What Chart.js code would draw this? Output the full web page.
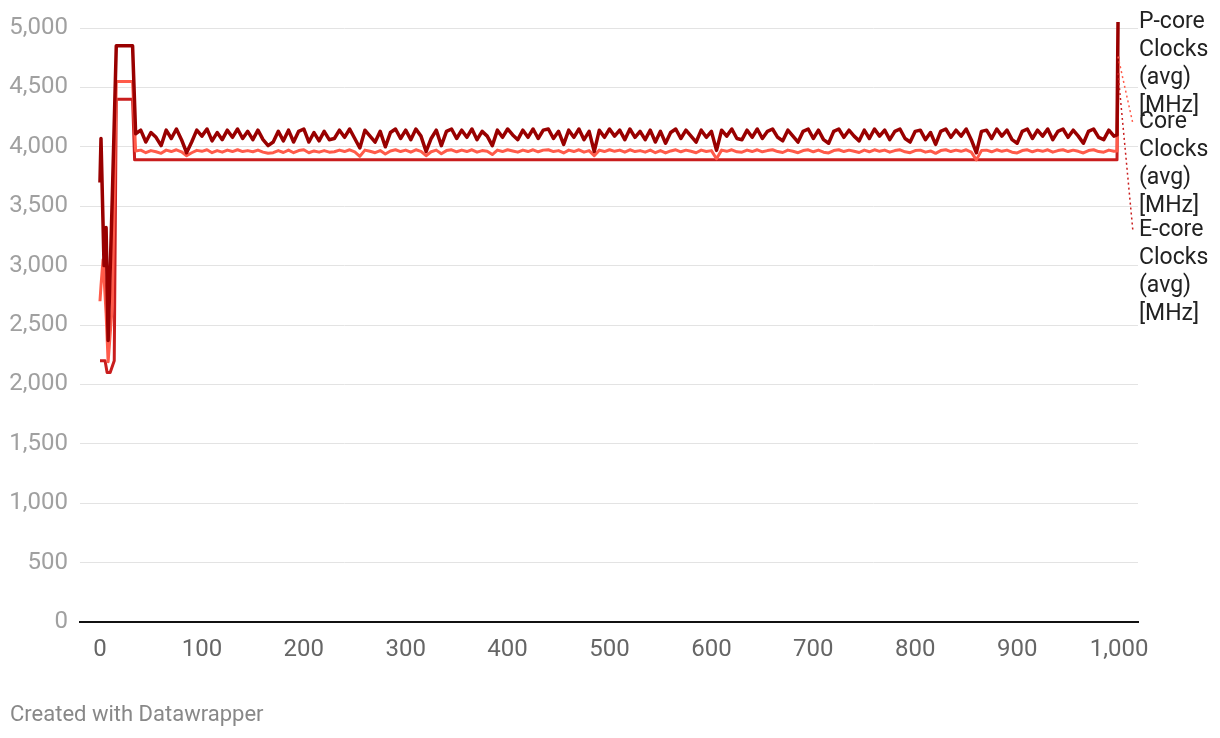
<!DOCTYPE html>
<html>
<head>
<meta charset="utf-8">
<script src="https://cdn.jsdelivr.net/npm/chart.js@4.4.1/dist/chart.umd.min.js"></script>
<style>
  body { margin: 0; background: #fff; font-family: Roboto, sans-serif; }
  #wrap { position: relative; width: 1220px; height: 738px; }
  #footer { position: absolute; left: 10px; top: 701px; font-size: 22px; color: #888; }
</style>
</head>
<body>
<div id="wrap">
  <canvas id="clockChart"></canvas>
  <div id="footer">Created with Datawrapper</div>
</div>
<script>
// Serienamen und Farben
const seriesNames = ['P-core Clocks (avg) [MHz]', 'Core Clocks (avg) [MHz]', 'E-core Clocks (avg) [MHz]'];
const seriesColors = ['#990000', '#ff5b4a', '#c91d1d'];

// Anlauf (x, MHz)
const pStartX = [0, 1, 4, 6, 8, 12, 16, 32];
const pStart = [3700, 4070, 3000, 3320, 2370, 3550, 4850, 4850];
const coreStartX = [0, 1, 3, 6, 8, 12, 16, 32];
const coreStart = [2700, 2830, 3050, 2600, 2190, 2650, 4550, 4550];
const eStartX = [0, 5, 7, 10, 14, 16, 32, 34];
const eStart = [2200, 2200, 2100, 2100, 2200, 4400, 4400, 3890];

// Dauerlast, Abtastung alle 5 Einheiten ab x = 35
const steadyFrom = 35;
const steadyStep = 5;
const pSteady = [
  4110, 4140, 4040, 4120, 4080, 4010, 4140, 4070, 4150, 4060,
  3950, 4040, 4140, 4090, 4150, 4050, 4120, 4060, 4140, 4080,
  4150, 4070, 4130, 4060, 4140, 4060, 4010, 4040, 4130, 4050,
  4140, 4040, 4130, 4150, 4040, 4120, 4050, 4130, 4060, 4070,
  4140, 4080, 4150, 4070, 3990, 4140, 4090, 4040, 4130, 4000,
  4120, 4150, 4070, 4140, 4060, 4150, 4090, 3960, 4070, 4140,
  4010, 4130, 4150, 4070, 4140, 4080, 4150, 4060, 4130, 4090,
  4010, 4140, 4080, 4150, 4100, 4060, 4140, 4080, 4150, 4070,
  4140, 4150, 4070, 4130, 4020, 4140, 4080, 4150, 4060, 4130,
  3960, 4140, 4080, 4150, 4090, 4140, 4060, 4150, 4080, 4130,
  4060, 4140, 4040, 4130, 4030, 4120, 4150, 4070, 4140, 4090,
  4040, 4140, 4080, 4130, 3970, 4140, 4090, 4150, 4070, 4060,
  4140, 4080, 4150, 4070, 4130, 4150, 4080, 4050, 4140, 4090,
  4040, 4130, 4150, 4070, 4140, 4060, 4030, 4130, 4150, 4080,
  4140, 4090, 4050, 4140, 4070, 4150, 4090, 4140, 4060, 4130,
  4150, 4070, 4040, 4130, 4140, 4060, 4120, 4020, 4130, 4150,
  4080, 4140, 4090, 4150, 4060, 3950, 4130, 4140, 4070, 4150,
  4090, 4140, 4060, 4030, 4130, 4150, 4070, 4140, 4090, 4150,
  4060, 4130, 4150, 4080, 4140, 4090, 4030, 4130, 4150, 4080,
  4060, 4140, 4090
];
const coreSteady = [
  3965, 3972, 3950, 3968, 3958, 3945, 3972, 3960, 3975, 3958,
  3925, 3950, 3970, 3962, 3975, 3950, 3968, 3955, 3972, 3960,
  3975, 3960, 3968, 3958, 3972, 3955, 3945, 3950, 3968, 3952,
  3972, 3950, 3968, 3975, 3950, 3965, 3955, 3968, 3955, 3958,
  3972, 3960, 3975, 3958, 3920, 3972, 3962, 3950, 3968, 3940,
  3965, 3975, 3960, 3972, 3955, 3975, 3962, 3925, 3958, 3972,
  3942, 3968, 3975, 3958, 3972, 3960, 3975, 3955, 3968, 3962,
  3935, 3972, 3960, 3975, 3965, 3955, 3972, 3960, 3975, 3958,
  3972, 3975, 3960, 3968, 3948, 3972, 3960, 3975, 3955, 3968,
  3925, 3972, 3960, 3975, 3962, 3972, 3955, 3975, 3960, 3968,
  3955, 3972, 3950, 3968, 3948, 3965, 3975, 3958, 3972, 3962,
  3950, 3972, 3960, 3968, 3900, 3972, 3962, 3975, 3958, 3955,
  3972, 3960, 3975, 3958, 3968, 3975, 3960, 3952, 3972, 3962,
  3950, 3968, 3975, 3958, 3972, 3955, 3948, 3968, 3975, 3960,
  3972, 3962, 3952, 3972, 3958, 3975, 3962, 3972, 3955, 3968,
  3975, 3958, 3950, 3968, 3972, 3955, 3965, 3945, 3968, 3975,
  3960, 3972, 3962, 3975, 3955, 3890, 3968, 3972, 3958, 3975,
  3962, 3972, 3955, 3948, 3968, 3975, 3958, 3972, 3962, 3975,
  3955, 3968, 3975, 3960, 3972, 3962, 3948, 3968, 3975, 3960,
  3955, 3972, 3962
];
const eSteadyX = [997];
const eSteady = [3890];

// Endspitze
const endX = [998, 999];
const pEnd = [4100, 5050];
const coreEnd = [3965, 4760];
const eEnd = [3890, 4620];

// Achsen
const xTicks = [0, 100, 200, 300, 400, 500, 600, 700, 800, 900, 1000];
const yTicks = [0, 500, 1000, 1500, 2000, 2500, 3000, 3500, 4000, 4500, 5000];

function toPoints(xs, ys) {
  return ys.map((y, i) => ({ x: xs[i], y: y }));
}
const steadyX = pSteady.map((_, i) => steadyFrom + i * steadyStep);

const pData = toPoints(pStartX, pStart).concat(toPoints(steadyX, pSteady), toPoints(endX, pEnd));
const coreData = toPoints(coreStartX, coreStart).concat(toPoints(steadyX, coreSteady), toPoints(endX, coreEnd));
const eData = toPoints(eStartX, eStart).concat(toPoints(eSteadyX, eSteady), toPoints(endX, eEnd));

const fmt = new Intl.NumberFormat('en-US');

// Beschriftung rechts neben den Linien
const lineLabels = {
  id: 'lineLabels',
  afterDatasetsDraw(chart) {
    const ctx = chart.ctx;
    const yScale = chart.scales.y;
    const tops = [0, 100, 208]; // Abstand zum ersten Label
    const textX = 1139;
    const lineH = 28;
    const firstY = yScale.getPixelForValue(pEnd[pEnd.length - 1]);
    ctx.save();
    chart.data.datasets.forEach((ds, i) => {
      const meta = chart.getDatasetMeta(i);
      const last = meta.data[meta.data.length - 1];
      const labelY = firstY + tops[i];
      if (i > 0) {
        ctx.strokeStyle = ds.borderColor;
        ctx.lineWidth = 1.5;
        ctx.setLineDash([2, 3]);
        ctx.beginPath();
        ctx.moveTo(last.x, last.y);
        ctx.lineTo(textX - 6, labelY + 2);
        ctx.stroke();
        ctx.setLineDash([]);
      }
      ctx.fillStyle = '#222';
      ctx.font = '23px Roboto';
      ctx.textBaseline = 'middle';
      ctx.textAlign = 'left';
      const words = seriesNames[i].split(' ');
      words.forEach((w, k) => ctx.fillText(w, textX, labelY + k * lineH));
    });
    ctx.restore();
  }
};

const chartCanvas = document.getElementById('clockChart');
new Chart(chartCanvas.getContext('2d'), {
  type: 'line',
  data: {
    datasets: [
      { label: seriesNames[0], data: pData, borderColor: seriesColors[0], borderWidth: 3.5 },
      { label: seriesNames[1], data: coreData, borderColor: seriesColors[1], borderWidth: 3 },
      { label: seriesNames[2], data: eData, borderColor: seriesColors[2], borderWidth: 3 }
    ].map(d => Object.assign(d, {
      pointRadius: 0,
      tension: 0,
      fill: false,
      clip: false,
      borderJoinStyle: 'round'
    }))
  },
  options: {
    responsive: true,
    maintainAspectRatio: false,
    animation: false,
    layout: { padding: { top: 28, right: 82, bottom: 66, left: 0 } },
    plugins: { legend: { display: false }, tooltip: { enabled: false } },
    scales: {
      x: {
        type: 'linear',
        min: -19.6,
        max: 1018.6,
        afterFit: s => { s.height = 50; },
        afterBuildTicks: s => { s.ticks = xTicks.map(v => ({ value: v })); },
        grid: { display: false, drawTicks: false },
        border: { display: true, color: '#111', width: 2 },
        ticks: {
          padding: 14,
          maxRotation: 0,
          color: '#666',
          font: { family: 'Roboto', size: 24 },
          callback: v => fmt.format(v)
        }
      },
      y: {
        min: 0,
        max: 5000,
        afterFit: s => { s.width = 80; },
        afterBuildTicks: s => { s.ticks = yTicks.map(v => ({ value: v })); },
        grid: { color: '#e3e3e3', lineWidth: 1, drawTicks: false },
        border: { display: false },
        ticks: {
          padding: 12,
          color: '#a0a0a0',
          font: { family: 'Roboto', size: 24 },
          callback: v => fmt.format(v)
        }
      }
    }
  },
  plugins: [lineLabels]
});
</script>
</body>
</html>
